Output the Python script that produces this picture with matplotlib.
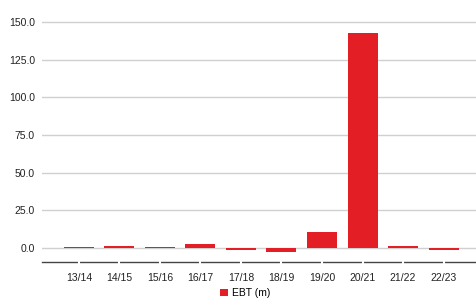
import matplotlib
matplotlib.use("Agg")
import matplotlib.pyplot as plt
import numpy as np

categories = ["13/14", "14/15", "15/16", "16/17", "17/18", "18/19", "19/20", "20/21", "21/22", "22/23"]
ebt = [0.5, 1.5, 0.5, 2.5, -1.5, -2.7, 10.5, 142.9, 1.0, -1.5]
yticks = [0, 25, 50, 75, 100, 125, 150]
series_name = "EBT (m)"

plt.rcParams['font.family'] = ['Liberation Sans', 'DejaVu Sans']

fig = plt.figure(figsize=(4.76, 3.0), dpi=100)
ax = fig.add_axes([42/476, 38/300, 434/476, 262/300])

x = np.arange(len(categories))
bars = ax.bar(x, ebt, width=0.74, color="#e31e24", zorder=3, label=series_name)

ax.set_xlim(-0.91, 9.8)
ax.set_ylim(-9.3, 164.6)
ax.set_yticks(yticks)
ax.set_yticklabels([f"{v:.1f}" for v in yticks], fontsize=7.5, color="#222222")
ax.set_xticks(x)
ax.set_xticklabels(categories, fontsize=7.5, color="#222222")

ax.grid(axis="y", color="#d0d0d0", linewidth=1.0, zorder=0)
ax.grid(axis="x", visible=False)
for s in ["top", "right", "left"]:
    ax.spines[s].set_visible(False)
ax.spines["bottom"].set_color("#444444")
ax.spines["bottom"].set_linewidth(1.0)
ax.spines["bottom"].set_zorder(1)
ax.tick_params(axis="y", length=0, pad=5)
ax.tick_params(axis="x", color="white", length=4, width=1.5, direction="inout", pad=6)
for t in ax.xaxis.get_major_ticks():
    t.tick1line.set_zorder(5)

leg = fig.legend(handles=[bars], labels=[series_name], loc="lower center",
                 bbox_to_anchor=(0.515, -0.025), frameon=False, fontsize=7.5,
                 handlelength=0.7, handleheight=0.7, handletextpad=0.4)

fig.savefig("out.png", dpi=100)
